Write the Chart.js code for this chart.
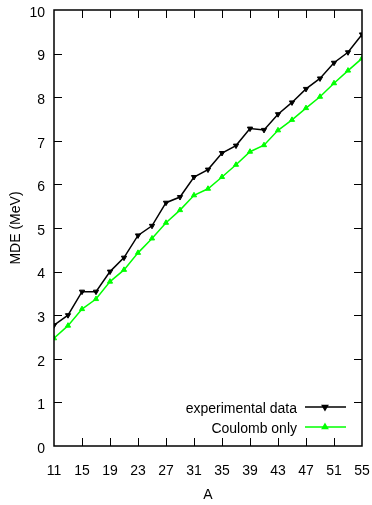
<!DOCTYPE html>
<html>
<head>
<meta charset="utf-8">
<script src="https://cdn.jsdelivr.net/npm/chart.js@4.4.1/dist/chart.umd.min.js"></script>
<style>
  html, body { margin: 0; padding: 0; background: #fff; }
  #c { display: block; }
</style>
</head>
<body>
<canvas id="c" width="372" height="505"></canvas>
<script>
const massNumbers = [11,13,15,17,19,21,23,25,27,29,31,33,35,37,39,41,43,45,47,49,51,53,55];
const experimental = [2.77,3.00,3.54,3.54,4.00,4.32,4.83,5.05,5.58,5.71,6.17,6.34,6.72,6.89,7.28,7.25,7.61,7.88,8.19,8.43,8.79,9.03,9.44];
const coulombOnly = [2.47,2.76,3.14,3.37,3.77,4.04,4.43,4.76,5.12,5.41,5.75,5.90,6.17,6.45,6.75,6.90,7.24,7.48,7.75,8.01,8.32,8.61,8.89];
const xTicks = [11,15,19,23,27,31,35,39,43,47,51,55];
const yTicks = [0,1,2,3,4,5,6,7,8,9,10];
const seriesLabels = ['experimental data', 'Coulomb only'];
const seriesColors = ['#000000', '#00ff00'];

const FONT = 'Liberation Sans, Arial, Helvetica, sans-serif';

const framePlugin = {
  id: 'frameTicks',
  afterDraw(chart) {
    const ctx = chart.ctx;
    const a = chart.chartArea;
    const xs = chart.scales.x, ys = chart.scales.y;
    const tl = 8;
    ctx.save();
    ctx.strokeStyle = '#000';
    ctx.lineWidth = 1;
    ctx.beginPath();
    xs.ticks.forEach(t => {
      const px = Math.round(xs.getPixelForValue(t.value)) + 0.5;
      if (px > a.left + 1 && px < a.right - 1) {
        ctx.moveTo(px, a.bottom); ctx.lineTo(px, a.bottom - tl);
        ctx.moveTo(px, a.top); ctx.lineTo(px, a.top + tl);
      }
    });
    ys.ticks.forEach(t => {
      const py = Math.round(ys.getPixelForValue(t.value)) + 0.5;
      if (py > a.top + 1 && py < a.bottom - 1) {
        ctx.moveTo(a.left, py); ctx.lineTo(a.left + tl, py);
        ctx.moveTo(a.right, py); ctx.lineTo(a.right - tl, py);
      }
    });
    ctx.stroke();
    ctx.lineWidth = 1.5;
    ctx.strokeRect(a.left, a.top, a.right - a.left, a.bottom - a.top);

    // y tick labels (slightly below tick, as in reference)
    ctx.font = '14px ' + FONT;
    ctx.fillStyle = '#000';
    ctx.textAlign = 'right';
    ctx.textBaseline = 'middle';
    ys.ticks.forEach(t => {
      ctx.fillText(String(t.value), a.left - 9, ys.getPixelForValue(t.value) + 3);
    });

    // legend
    ctx.textAlign = 'right';
    ctx.textBaseline = 'alphabetic';
    chart.data.datasets.forEach((ds, i) => {
      const ly = 407 + i * 20;
      ctx.fillStyle = '#000';
      ctx.fillText(ds.label, 297, ly + 6);
      ctx.strokeStyle = ds.borderColor;
      ctx.lineWidth = 1.5;
      ctx.beginPath();
      ctx.moveTo(305, ly); ctx.lineTo(346, ly);
      ctx.stroke();
      ctx.fillStyle = ds.borderColor;
      Chart.helpers.drawPoint(ctx, {
        pointStyle: 'triangle', rotation: ds.pointRotation || 0,
        radius: ds.pointRadius, borderWidth: 1
      }, 325, ly);
    });
    ctx.restore();
  }
};

new Chart(document.getElementById('c'), {
  type: 'line',
  data: {
    datasets: [
      {
        label: seriesLabels[0],
        data: massNumbers.map((a, i) => ({ x: a, y: experimental[i] })),
        borderColor: seriesColors[0],
        backgroundColor: seriesColors[0],
        pointBackgroundColor: seriesColors[0],
        borderWidth: 1.5,
        pointStyle: 'triangle',
        pointRotation: 180,
        pointRadius: 3,
        pointBorderWidth: 1,
        tension: 0
      },
      {
        label: seriesLabels[1],
        data: massNumbers.map((a, i) => ({ x: a, y: coulombOnly[i] })),
        borderColor: seriesColors[1],
        backgroundColor: seriesColors[1],
        pointBackgroundColor: seriesColors[1],
        borderWidth: 1.5,
        pointStyle: 'triangle',
        pointRotation: 0,
        pointRadius: 3,
        pointBorderWidth: 1,
        tension: 0
      }
    ]
  },
  options: {
    responsive: false,
    animation: false,
    devicePixelRatio: 1,
    layout: { padding: { top: 10, right: 10, left: 0, bottom: 0 } },
    plugins: { legend: { display: false }, tooltip: { enabled: false } },
    scales: {
      x: {
        type: 'linear',
        min: 11, max: 55,
        afterBuildTicks: s => { s.ticks = xTicks.map(v => ({ value: v })); },
        afterFit: s => { s.height = 59; s.paddingLeft = 0; s.paddingRight = 0; },
        grid: { display: false, drawTicks: false },
        border: { display: false },
        ticks: { color: '#000', padding: 17, font: { family: FONT, size: 14 }, maxRotation: 0, autoSkip: false },
        title: { display: true, text: 'A', color: '#000', font: { family: FONT, size: 14 }, padding: { top: 0, bottom: 1 } }
      },
      y: {
        type: 'linear',
        min: 0, max: 10,
        afterBuildTicks: s => { s.ticks = yTicks.map(v => ({ value: v })); },
        afterFit: s => { s.width = 54; s.paddingTop = 0; s.paddingBottom = 0; },
        grid: { display: false, drawTicks: false },
        border: { display: false },
        ticks: { display: false },
        title: { display: true, text: 'MDE (MeV)', color: '#000', font: { family: FONT, size: 14 }, padding: { top: 8, bottom: 0 } }
      }
    }
  },
  plugins: [framePlugin]
});
</script>
</body>
</html>
